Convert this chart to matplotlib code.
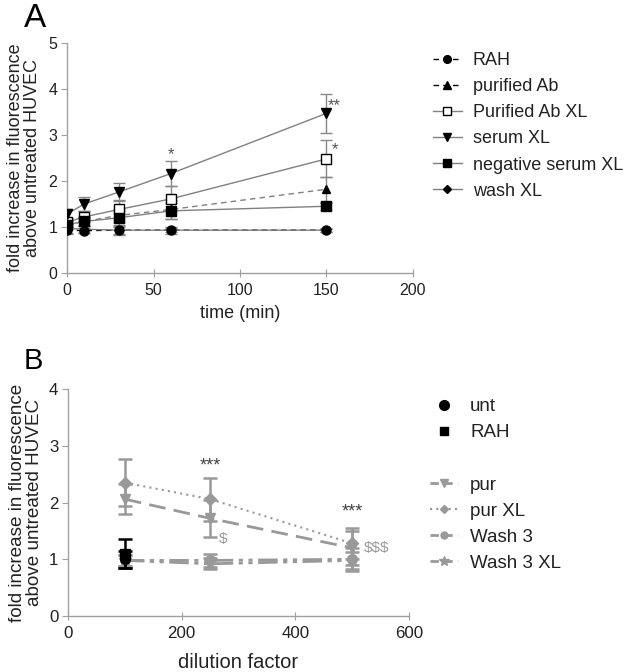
import matplotlib
matplotlib.use("Agg")
import matplotlib.pyplot as plt
from matplotlib.lines import Line2D
import numpy as np

plt.rcParams['font.family'] = ['Liberation Sans', 'DejaVu Sans']

# ---------------- Panel A data ----------------
time_min = [0, 10, 30, 60, 150]
rah_a = [0.93, 0.92, 0.93, 0.93, 0.93]
rah_a_err = [0.08, 0.05, 0.08, 0.04, 0.03]
pur_ab = [1.05, 1.12, 1.25, 1.38, 1.82]
pur_ab_err = [0.10, 0.10, 0.15, 0.20, 0.27]
pur_ab_xl = [1.10, 1.22, 1.38, 1.61, 2.48]
pur_ab_xl_err = [0.10, 0.12, 0.20, 0.27, 0.40]
serum_xl = [1.28, 1.50, 1.76, 2.16, 3.47]
serum_xl_err = [0.10, 0.15, 0.20, 0.27, 0.42]
neg_serum_xl = [1.05, 1.12, 1.20, 1.35, 1.45]
neg_serum_xl_err = [0.10, 0.10, 0.15, 0.18, 0.08]
wash_xl = [0.97, 0.95, 0.93, 0.93, 0.93]
wash_xl_err = [0.10, 0.08, 0.10, 0.08, 0.04]

labels_a = ["RAH", "purified Ab", "Purified Ab XL", "serum XL",
            "negative serum XL", "wash XL"]

# ---------------- Panel B data ----------------
dilution = [100, 250, 500]
unt_x = [100]
unt_b = [1.00]
unt_b_err = [0.15]
rah_b = [1.10]
rah_b_err = [0.25]
pur_b = [2.06, 1.72, 1.20]
pur_b_err = [0.26, 0.33, 0.30]
pur_xl_b = [2.35, 2.06, 1.28]
pur_xl_b_err = [0.42, 0.38, 0.27]
wash3_b = [0.98, 0.98, 1.00]
wash3_b_err = [0.10, 0.12, 0.20]
wash3_xl_b = [0.98, 0.92, 0.98]
wash3_xl_b_err = [0.10, 0.10, 0.15]

labels_b = ["unt", "RAH", "", "pur", "pur XL", "Wash 3", "Wash 3 XL"]

fig = plt.figure(figsize=(6.34, 6.72), dpi=100)

axis_gray = '#a0a0a0'
text_col = '#222222'
line_gray = '#808080'

def style_axes(ax, fs):
    for s in ['top', 'right']:
        ax.spines[s].set_visible(False)
    for s in ['left', 'bottom']:
        ax.spines[s].set_color(axis_gray)
        ax.spines[s].set_linewidth(1.0)
    ax.tick_params(axis='x', direction='inout', length=6, color=axis_gray,
                   labelsize=fs, labelcolor=text_col, pad=4)
    ax.tick_params(axis='y', direction='out', length=4, color=axis_gray,
                   labelsize=fs, labelcolor=text_col, pad=3)

# ---------------- Panel A ----------------
axA = fig.add_axes([0.1057, 0.5938, 0.5457, 0.3423])
series_a = [
    (rah_a, rah_a_err, 'o', 'k', (0, (4, 3)), 'k'),
    (pur_ab, pur_ab_err, '^', 'k', (0, (4, 3)), line_gray),
    (pur_ab_xl, pur_ab_xl_err, 's', 'white', '-', line_gray),
    (serum_xl, serum_xl_err, 'v', 'k', '-', line_gray),
    (neg_serum_xl, neg_serum_xl_err, 's', 'k', '-', line_gray),
    (wash_xl, wash_xl_err, 'D', 'k', '-', line_gray),
]
msizes = [6.5, 6, 7.5, 6.5, 7, 4.5]
handles_a = []
for (vals, err, mk, mfc, ls, lc), ms in zip(series_a, msizes):
    axA.errorbar(time_min, vals, yerr=err, fmt='none', ecolor='#888888',
                 elinewidth=1.0, capsize=4, capthick=1.0, zorder=2)
    axA.plot(time_min, vals, linestyle=ls, color=lc, lw=1.0, zorder=3)
    axA.plot(time_min, vals, linestyle='none', marker=mk, ms=ms,
             mfc=mfc, mec='k', mew=1.0, zorder=4)
    handles_a.append(Line2D([], [], linestyle=ls, color='k' if ls != '-' else line_gray,
                            lw=1.0, marker=mk, ms=ms * 0.85, mfc=mfc, mec='k', mew=1.0))

axA.set_xlim(0, 200)
axA.set_ylim(0, 5)
axA.set_xticks([0, 50, 100, 150, 200])
axA.set_yticks([0, 1, 2, 3, 4, 5])
style_axes(axA, 11.5)
axA.set_xlabel("time (min)", fontsize=13, color=text_col, labelpad=5)
axA.set_ylabel("fold increase in fluorescence\nabove untreated HUVEC",
               fontsize=13, color=text_col, labelpad=5, linespacing=1.0)
axA.text(60, 2.58, "*", ha='center', va='center', fontsize=12, color='#555555')
axA.text(151, 3.64, "**", ha='left', va='center', fontsize=12, color='#555555')
axA.text(153, 2.68, "*", ha='left', va='center', fontsize=12, color='#555555')

fig.legend(handles_a, labels_a, loc='upper left',
           bbox_to_anchor=(0.683, 0.922), frameon=False, fontsize=13,
           handlelength=1.6, handletextpad=0.6, labelspacing=0.5,
           borderpad=0, borderaxespad=0, labelcolor=text_col)

fig.text(0.038, 0.9598, "A", fontsize=24, va='baseline', ha='left', color='k')

# ---------------- Panel B ----------------
axB = fig.add_axes([0.1073, 0.0833, 0.5379, 0.3378])
bgray = '#999999'
wash_dash = (0, (7, 2, 1.5, 2, 1.5, 2))

axB.errorbar(dilution, pur_b, yerr=pur_b_err, fmt='none', ecolor=bgray,
             elinewidth=1.8, capsize=5, capthick=1.8, zorder=2)
axB.errorbar(dilution, pur_xl_b, yerr=pur_xl_b_err, fmt='none', ecolor=bgray,
             elinewidth=1.8, capsize=5, capthick=1.8, zorder=2)
axB.errorbar(dilution, wash3_b, yerr=wash3_b_err, fmt='none', ecolor=bgray,
             elinewidth=1.8, capsize=5, capthick=1.8, zorder=2)
axB.errorbar(dilution, wash3_xl_b, yerr=wash3_xl_b_err, fmt='none', ecolor=bgray,
             elinewidth=1.8, capsize=5, capthick=1.8, zorder=2)
axB.errorbar(unt_x, rah_b, yerr=rah_b_err, fmt='none', ecolor='k',
             elinewidth=1.8, capsize=5, capthick=1.8, zorder=5)
axB.errorbar(unt_x, unt_b, yerr=unt_b_err, fmt='none', ecolor='k',
             elinewidth=1.8, capsize=5, capthick=1.8, zorder=5)

axB.plot(dilution, pur_b, linestyle=(0, (6, 3)), color=bgray, lw=2.0,
         marker='v', ms=7, mfc=bgray, mec=bgray, zorder=3)
axB.plot(dilution, pur_xl_b, linestyle=(0, (1, 2)), color=bgray, lw=1.5,
         marker='D', ms=6, mfc=bgray, mec=bgray, zorder=3)
axB.plot(dilution, wash3_b, linestyle=wash_dash, color=bgray, lw=2.0,
         marker='o', ms=7, mfc=bgray, mec=bgray, zorder=3)
axB.plot(dilution, wash3_xl_b, linestyle=wash_dash, color=bgray, lw=2.0,
         marker='*', ms=9, mfc=bgray, mec=bgray, zorder=3)
axB.plot(unt_x, unt_b, linestyle='none', marker='o', ms=7, color='k', zorder=6)
axB.plot(unt_x, rah_b, linestyle='none', marker='s', ms=6.5, color='k', zorder=6)

axB.set_xlim(0, 600)
axB.set_ylim(0, 4)
axB.set_xticks([0, 200, 400, 600])
axB.set_yticks([0, 1, 2, 3, 4])
style_axes(axB, 12.2)
axB.set_xlabel("dilution factor", fontsize=14.5, color=text_col, labelpad=9)
axB.set_ylabel("fold increase in fluorescence\nabove untreated HUVEC",
               fontsize=13.6, color=text_col, labelpad=4, linespacing=1.0)
axB.text(250, 2.64, "***", ha='center', va='center', fontsize=13, color='#444444')
axB.text(500, 1.83, "***", ha='center', va='center', fontsize=13, color='#444444')
axB.text(265, 1.36, "$", ha='left', va='center', fontsize=11, color=bgray)
axB.text(520, 1.20, "$$$", ha='left', va='center', fontsize=11, color=bgray)

handles_b = [
    Line2D([], [], linestyle='none', marker='o', ms=7, color='k'),
    Line2D([], [], linestyle='none', marker='s', ms=6, color='k'),
    Line2D([], [], linestyle='none', marker='none'),
    Line2D([], [], linestyle=(0, (3, 2)), color=bgray, lw=2.0, marker='v', ms=6,
           mfc=bgray, mec=bgray),
    Line2D([], [], linestyle=(0, (1, 2)), color=bgray, lw=1.5, marker='D', ms=4.5,
           mfc=bgray, mec=bgray),
    Line2D([], [], linestyle=(0, (3, 2)), color=bgray, lw=2.0, marker='o', ms=5,
           mfc=bgray, mec=bgray),
    Line2D([], [], linestyle=(0, (3, 2)), color=bgray, lw=2.0, marker='*', ms=7,
           mfc=bgray, mec=bgray),
]
fig.legend(handles_b, labels_b, loc='upper left',
           bbox_to_anchor=(0.678, 0.4075), frameon=False, fontsize=13.5,
           handlelength=1.5, handletextpad=0.65, labelspacing=0.48,
           borderpad=0, borderaxespad=0, labelcolor=text_col)

fig.text(0.038, 0.4509, "B", fontsize=21, va='baseline', ha='left', color='k')

fig.savefig("out.png", dpi=100)
